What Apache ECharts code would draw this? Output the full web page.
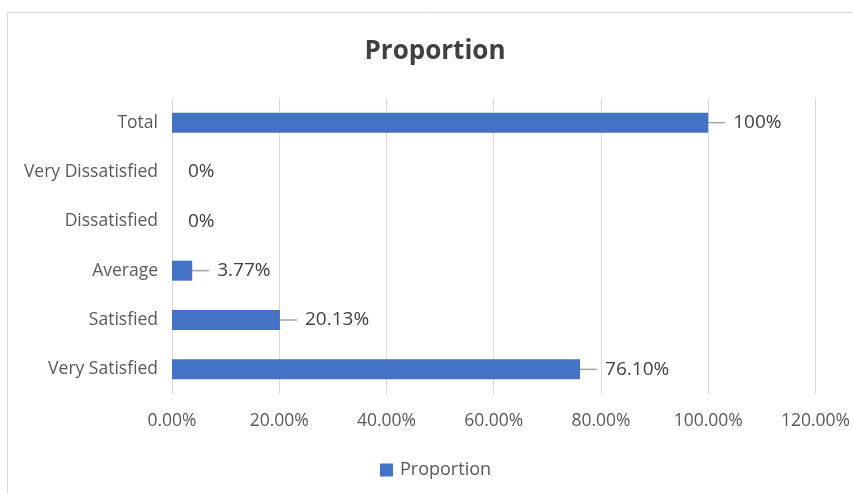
<!DOCTYPE html>
<html>
<head>
<meta charset="utf-8">
<script src="https://cdn.jsdelivr.net/npm/echarts@6/dist/echarts.min.js"></script>
<style>
  html, body { margin: 0; padding: 0; background: #fff; }
  #main { width: 853px; height: 493px; }
</style>
</head>
<body>
<div id="main"></div>
<script>
// bottom to top, as Excel draws a bar chart
var categories = ['Very Satisfied', 'Satisfied', 'Average', 'Dissatisfied', 'Very Dissatisfied', 'Total'];
var proportion = [76.10, 20.13, 3.77, 0, 0, 100];
var xTicks = [0, 20, 40, 60, 80, 100, 120];

var chart = echarts.init(document.getElementById('main'));

var data = [];
for (var i = 0; i < proportion.length; i++) {
    data.push({
        value: proportion[i],
        labelLine: { show: proportion[i] !== 0 }
    });
}

function pct(v) {
    return Number.isInteger(v) ? v + '%' : v.toFixed(2) + '%';
}

var option = {
    animation: false,
    textStyle: { fontFamily: 'Open Sans' },
    graphic: [{
        type: 'rect',
        z: -10,
        shape: { x: 7.5, y: 12.5, width: 900, height: 600 },
        style: { fill: 'none', stroke: '#d9d9d9', lineWidth: 1 }
    }],
    title: {
        text: 'Proportion',
        left: 430,
        top: 34,
        textAlign: 'center',
        textStyle: {
            fontFamily: 'Open Sans',
            fontSize: 26,
            fontWeight: 'bold',
            color: '#404040'
        }
    },
    legend: {
        data: ['Proportion'],
        left: 375,
        top: 456,
        icon: 'rect',
        itemWidth: 13,
        itemHeight: 13,
        itemGap: 8,
        textStyle: { fontSize: 18, color: '#595959', fontFamily: 'Open Sans', padding: [0, 0, 0, 2] }
    },
    grid: {
        left: 172,
        right: 36,
        top: 98,
        bottom: 99
    },
    xAxis: {
        type: 'value',
        min: xTicks[0],
        max: xTicks[xTicks.length - 1],
        interval: 20,
        axisLine: { show: false },
        axisTick: { show: false },
        axisLabel: {
            margin: 18,
            fontSize: 17.5,
            color: '#595959',
            formatter: function (v) { return v.toFixed(2) + '%'; }
        },
        splitLine: { lineStyle: { color: '#d9d9d9', width: 1 } }
    },
    yAxis: {
        type: 'category',
        data: categories,
        axisLine: { show: false },
        axisTick: { show: false },
        axisLabel: { margin: 14, fontSize: 17.5, color: '#595959' }
    },
    series: [{
        name: 'Proportion',
        type: 'bar',
        barWidth: 20,
        itemStyle: { color: '#4472C4' },
        label: {
            show: true,
            position: 'right',
            distance: 0,
            fontSize: 19,
            color: '#404040',
            formatter: function (p) { return '{s|}' + pct(p.value); },
            rich: {
                s: { width: 8 }
            }
        },
        labelLine: {
            show: true,
            lineStyle: { color: '#a6a6a6', width: 1.5 }
        },
        labelLayout: function (p) {
            return { dx: proportion[p.dataIndex] === 0 ? 8 : 17 };
        },
        data: data
    }]
};

chart.setOption(option);
window.addEventListener('resize', function () {
    chart.resize();
});
</script>
</body>
</html>
